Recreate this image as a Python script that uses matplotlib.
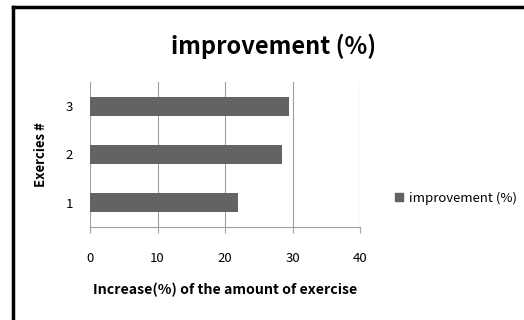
import matplotlib
matplotlib.use("Agg")
import matplotlib.pyplot as plt
from matplotlib.lines import Line2D

plt.rcParams['font.family'] = ['Noto Sans CJK KR', 'DejaVu Sans']

categories = ["1", "2", "3"]
values = [21.9, 28.5, 29.5]
xticks = [0, 10, 20, 30, 40]
series_name = "improvement"

W, H = 524, 320
fig = plt.figure(figsize=(W/100, H/100), dpi=100)
ax = fig.add_axes([90/W, 1-226.7/H, 270/W, (226.7-82)/H])

pos = [1, 2, 3]
ax.barh(pos, values, height=0.39, color="#636363", zorder=3)
ax.set_xlim(0, 40)
ax.set_ylim(0.5, 3.5)
ax.set_xticks(xticks)
ax.set_xticklabels([str(t) for t in xticks], fontsize=9.5)
ax.set_yticks(pos)
ax.set_yticklabels(categories, fontsize=9.5)
ax.grid(axis='x', color="#a0a0a0", linewidth=0.8, zorder=0)
for s in ['top', 'right', 'left']:
    ax.spines[s].set_visible(False)
ax.spines['bottom'].set_color("#a0a0a0")
ax.tick_params(axis='x', length=4, color="#a0a0a0", pad=14)
ax.tick_params(axis='y', length=0, pad=12)
ax.set_xlabel("Increase(%) of the amount of exercise", fontsize=10.2, fontweight='bold', labelpad=13)
ax.set_ylabel("Exercies #", fontsize=9.5, fontweight='bold', labelpad=13)

fig.text(274/W, 1-46/H, "improvement (%)", ha='center', va='center', fontsize=17, fontweight='bold')

fig.legend([plt.Rectangle((0, 0), 1, 1, color="#636363")], [series_name + " (%)"],
           loc='center left', bbox_to_anchor=(383/W, 1-198/H), frameon=False,
           fontsize=9.5, handlelength=0.6, handleheight=0.6, handletextpad=0.5)

fig.add_artist(Line2D([13/W, 13/W], [0, 1-7/H], color='black', linewidth=2.5, transform=fig.transFigure))
fig.add_artist(Line2D([13/W, 1], [1-7/H, 1-7/H], color='black', linewidth=2.5, transform=fig.transFigure))

fig.savefig("out.png", dpi=100)
